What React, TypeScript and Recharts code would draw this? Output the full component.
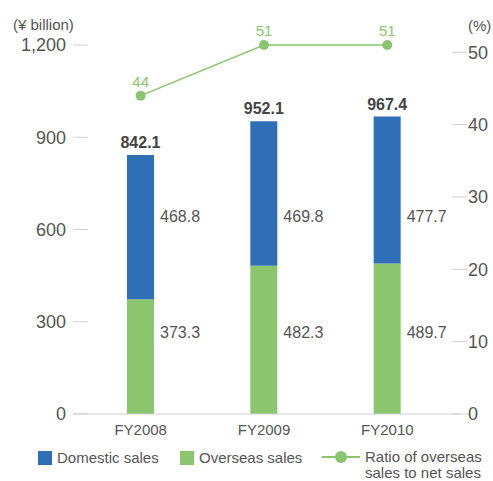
import { ComposedChart, Bar, Line, XAxis, YAxis, LabelList } from "recharts";

const years = ["FY2008", "FY2009", "FY2010"];
const overseas = [373.3, 482.3, 489.7];
const domestic = [468.8, 469.8, 477.7];
const totals = [842.1, 952.1, 967.4];
const ratio = [44, 51, 51];
const salesTicks = [0, 300, 600, 900, 1200];
const ratioTicks = [0, 10, 20, 30, 40, 50];

const BLUE = "#2f6fb8";
const GREEN = "#8bc56e";
const TEXT = "#555";
const FONT = '"Liberation Sans", Arial, sans-serif';

const data = years.map((name, i) => ({
  name,
  overseas: overseas[i],
  domestic: domestic[i],
  total: totals[i],
  ratio: ratio[i],
}));

const LeftTick = ({ x, y, payload }: any) => (
  <g>
    <line x1={x} x2={x + 15} y1={y} y2={y} stroke="#d0d0d0" />
    <text x={x - 7} y={y} dy="0.35em" textAnchor="end" fontSize={18} fill={TEXT}>
      {payload.value.toLocaleString("en-US")}
    </text>
  </g>
);

const RightTick = ({ x, y, payload }: any) => (
  <g>
    <line x1={x - 8} x2={x + 7} y1={y} y2={y} stroke="#d0d0d0" />
    <text x={x + 8} y={y} dy="0.35em" textAnchor="start" fontSize={18} fill={TEXT}>
      {payload.value}
    </text>
  </g>
);

const sideLabel = (fixedY: number) => (props: any) => {
  const { x, width, value } = props;
  return (
    <text x={x + width + 6} y={fixedY} dy="0.35em" fontSize={16} fill={TEXT}>
      {value.toFixed(1)}
    </text>
  );
};

const TotalLabel = (props: any) => {
  const { x, y, width, value } = props;
  return (
    <text x={x + width / 2} y={y - 7} textAnchor="middle" fontSize={16} fontWeight="bold" fill="#444">
      {value.toFixed(1)}
    </text>
  );
};

const legendItem = { display: "flex", alignItems: "center", position: "absolute" as const, top: 449 };

export default function App() {
  return (
    <div style={{ position: "absolute", left: 0, top: 0, width: 493, height: 481, overflow: "hidden", fontFamily: FONT, color: TEXT }}>
      <div style={{ position: "absolute", left: 13, top: 16, fontSize: 15 }}>(¥ billion)</div>
      <div style={{ position: "absolute", left: 468, top: 17, fontSize: 15 }}>(%)</div>
      <ComposedChart
        width={493}
        height={481}
        data={data}
        margin={{ top: 45, right: 0, left: 0, bottom: 37 }}
        style={{ fontFamily: FONT }}
      >
        <XAxis
          dataKey="name"
          padding={{ left: 6, right: 11 }}
          axisLine={{ stroke: "#d0d0d0" }}
          tickLine={false}
          tickSize={0}
          tickMargin={10}
          height={30}
          tick={{ fontSize: 15, fill: TEXT }}
        />
        <YAxis
          yAxisId="left"
          width={73}
          domain={[0, 1200]}
          ticks={salesTicks}
          axisLine={false}
          tickLine={false}
          tickSize={0}
          tickMargin={0}
          tick={<LeftTick />}
        />
        <YAxis
          yAxisId="right"
          orientation="right"
          width={33}
          domain={[0, 50]}
          ticks={ratioTicks}
          axisLine={false}
          tickLine={false}
          tickSize={0}
          tickMargin={0}
          tick={<RightTick />}
        />
        <Bar yAxisId="left" dataKey="overseas" stackId="s" fill={GREEN} barSize={27} isAnimationActive={false}>
          <LabelList dataKey="overseas" content={sideLabel(332)} />
        </Bar>
        <Bar yAxisId="left" dataKey="domestic" stackId="s" fill={BLUE} barSize={27} isAnimationActive={false}>
          <LabelList dataKey="domestic" content={sideLabel(216)} />
          <LabelList dataKey="total" content={<TotalLabel />} />
        </Bar>
        <Line
          yAxisId="right"
          dataKey="ratio"
          stroke={GREEN}
          strokeWidth={1.5}
          dot={{ r: 5, fill: GREEN, stroke: GREEN, strokeWidth: 0 }}
          isAnimationActive={false}
        >
          <LabelList dataKey="ratio" position="top" offset={9} fontSize={15} fill={GREEN} />
        </Line>
      </ComposedChart>
      <div style={{ fontSize: 15 }}>
        <div style={{ ...legendItem, left: 38 }}>
          <span style={{ width: 14, height: 14, background: BLUE, marginRight: 5 }} />
          Domestic sales
        </div>
        <div style={{ ...legendItem, left: 180 }}>
          <span style={{ width: 14, height: 14, background: GREEN, marginRight: 5 }} />
          Overseas sales
        </div>
        <div style={{ ...legendItem, left: 322, alignItems: "flex-start" }}>
          <svg width={38} height={16} style={{ marginRight: 5 }}>
            <line x1={0} x2={38} y1={8} y2={8} stroke={GREEN} strokeWidth={2} />
            <circle cx={19} cy={8} r={6} fill={GREEN} />
          </svg>
          <div style={{ lineHeight: "16px" }}>
            Ratio of overseas
            <br />
            sales to net sales
          </div>
        </div>
      </div>
    </div>
  );
}
